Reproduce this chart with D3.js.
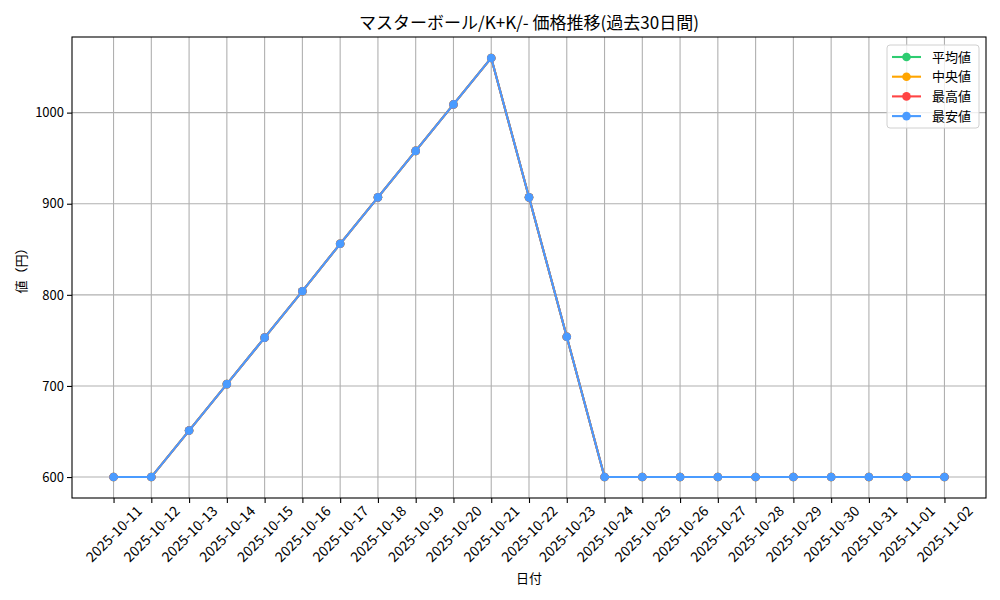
<!DOCTYPE html>
<html>
<head>
<meta charset="utf-8">
<script src="https://cdn.jsdelivr.net/npm/d3@7"></script>
<style>
  body { margin: 0; background: #fff; }
  text { font-family: "Noto Sans CJK JP", "DejaVu Sans", sans-serif; }
</style>
</head>
<body>
<svg id="drawing_region"></svg>
<script>
// 日付
const dates = ["2025-10-11","2025-10-12","2025-10-13","2025-10-14","2025-10-15","2025-10-16",
  "2025-10-17","2025-10-18","2025-10-19","2025-10-20","2025-10-21","2025-10-22","2025-10-23",
  "2025-10-24","2025-10-25","2025-10-26","2025-10-27","2025-10-28","2025-10-29","2025-10-30",
  "2025-10-31","2025-11-01","2025-11-02"];

// 各系列 (全部同じ値)
const meanValues   = [600,600,651,702,753,804,856,907,958,1009,1060,907,754,600,600,600,600,600,600,600,600,600,600];
const medianValues = [600,600,651,702,753,804,856,907,958,1009,1060,907,754,600,600,600,600,600,600,600,600,600,600];
const maxValues    = [600,600,651,702,753,804,856,907,958,1009,1060,907,754,600,600,600,600,600,600,600,600,600,600];
const minValues    = [600,600,651,702,753,804,856,907,958,1009,1060,907,754,600,600,600,600,600,600,600,600,600,600];

const seriesNames = ["平均値", "中央値", "最高値", "最安値"];
const yTicks = [600, 700, 800, 900, 1000];

const colors = ["#2ecc71", "#ffa500", "#ff4444", "#4a9bff"];
const series = [meanValues, medianValues, maxValues, minValues];

const W = 1000, H = 600;
const margin = { left: 72, right: 14, top: 37, bottom: 102 };
const innerW = W - margin.left - margin.right;
const innerH = H - margin.top - margin.bottom;

const svg = d3.select('#drawing_region')
  .attr('width', W)
  .attr('height', H);

const g = svg.append('g')
  .attr('transform', `translate(${margin.left},${margin.top})`);

// x: index scale with matplotlib-like 5% padding
const n = dates.length;
const pad = (n - 1) * 0.05;
const x = d3.scaleLinear().domain([-pad, n - 1 + pad]).range([0, innerW]);

const allVals = series.flat();
const yMin = d3.min(allVals), yMax = d3.max(allVals);
const yPad = (yMax - yMin) * 0.05;
const y = d3.scaleLinear().domain([yMin - yPad, yMax + yPad]).range([innerH, 0]);

// grid
g.append('g').selectAll('line').data(dates).enter().append('line')
  .attr('x1', (d, i) => x(i)).attr('x2', (d, i) => x(i))
  .attr('y1', 0).attr('y2', innerH)
  .attr('stroke', '#b0b0b0').attr('stroke-width', 1.1);
g.append('g').selectAll('line').data(yTicks).enter().append('line')
  .attr('x1', 0).attr('x2', innerW)
  .attr('y1', d => y(d)).attr('y2', d => y(d))
  .attr('stroke', '#b0b0b0').attr('stroke-width', 1.1);

// axes
const xAxis = d3.axisBottom(x)
  .tickValues(d3.range(n))
  .tickSize(5)
  .tickSizeOuter(0)
  .tickFormat(i => dates[i]);
const xg = g.append('g').attr('transform', `translate(0,${innerH})`).call(xAxis);
xg.select('.domain').remove();
xg.selectAll('.tick line').attr('stroke', '#000').attr('stroke-width', 1.1);
xg.selectAll('.tick text')
  .attr('font-size', 14)
  .attr('fill', '#000')
  .attr('text-anchor', 'middle')
  .attr('dy', '0.35em')
  .attr('y', 0)
  .attr('transform', 'translate(0,36) rotate(-45)');

const yAxis = d3.axisLeft(y).tickValues(yTicks).tickSize(5).tickSizeOuter(0).tickFormat(d3.format('d'));
const yg = g.append('g').call(yAxis);
yg.select('.domain').remove();
yg.selectAll('.tick line').attr('stroke', '#000').attr('stroke-width', 1.1);
yg.selectAll('.tick text').attr('font-size', 13).attr('fill', '#000').attr('x', -8);

// frame
g.append('rect')
  .attr('x', 0).attr('y', 0).attr('width', innerW).attr('height', innerH)
  .attr('fill', 'none').attr('stroke', '#000').attr('stroke-width', 1.1);

// lines
const line = d3.line().x((d, i) => x(i)).y(d => y(d));
series.forEach((vals, k) => {
  const sg = g.append('g');
  sg.append('path')
    .datum(vals)
    .attr('d', line)
    .attr('fill', 'none')
    .attr('stroke', colors[k])
    .attr('stroke-width', 2.1);
  sg.selectAll('circle').data(vals).enter().append('circle')
    .attr('cx', (d, i) => x(i)).attr('cy', d => y(d))
    .attr('r', 4.3)
    .attr('fill', colors[k]);
});

// titles
svg.append('text')
  .attr('x', margin.left + innerW / 2).attr('y', 29)
  .attr('text-anchor', 'middle').attr('font-size', 17)
  .text('マスターボール/K+K/- 価格推移(過去30日間)');
svg.append('text')
  .attr('x', margin.left + innerW / 2).attr('y', 583)
  .attr('text-anchor', 'middle').attr('font-size', 13)
  .text('日付');
svg.append('text')
  .attr('transform', `translate(21,${margin.top + innerH / 2}) rotate(-90)`)
  .attr('text-anchor', 'middle').attr('dy', '0.35em').attr('font-size', 13)
  .text('値（円）');

// legend
const lg = svg.append('g').attr('transform', 'translate(887,45)');
lg.append('rect')
  .attr('width', 92).attr('height', 83).attr('rx', 3)
  .attr('fill', '#fff').attr('fill-opacity', 0.8)
  .attr('stroke', '#d0d0d0').attr('stroke-width', 1);
seriesNames.forEach((name, k) => {
  const row = lg.append('g').attr('transform', `translate(0,${12 + k * 19.7})`);
  row.append('line').attr('x1', 5).attr('x2', 34).attr('y1', 0).attr('y2', 0)
    .attr('stroke', colors[k]).attr('stroke-width', 2.1);
  row.append('circle').attr('cx', 19.5).attr('cy', 0).attr('r', 4.3).attr('fill', colors[k]);
  row.append('text').attr('x', 45).attr('y', 0).attr('dy', '0.35em')
    .attr('font-size', 13).text(name);
});
</script>
</body>
</html>
